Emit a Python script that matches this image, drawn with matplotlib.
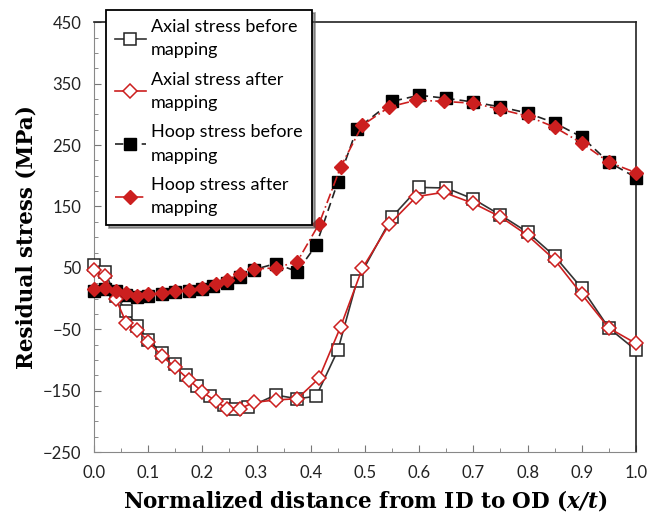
import matplotlib
matplotlib.use('Agg')
import matplotlib.pyplot as plt
import matplotlib.ticker as ticker

RED = '#CC1F1F'

# Axial stress before mapping (open squares)
ax_b_x = [0.0, 0.02, 0.04, 0.06, 0.08, 0.10, 0.125, 0.15, 0.17, 0.19, 0.215, 0.24, 0.26, 0.285,
          0.335, 0.375, 0.41, 0.45, 0.485, 0.55, 0.60, 0.65, 0.70, 0.75, 0.80, 0.85, 0.90, 0.95, 1.00]
ax_b_y = [54, 44, 4, -20, -45, -67, -88, -107, -125, -142, -158, -173, -180, -177,
          -157, -163, -159, -84, 28, 133, 181, 180, 162, 136, 108, 69, 17, -48, -84]

# Axial stress after mapping (open diamonds)
ax_a_x = [0.0, 0.02, 0.04, 0.06, 0.08, 0.10, 0.125, 0.15, 0.175, 0.20, 0.225, 0.245, 0.27, 0.295,
          0.335, 0.375, 0.415, 0.455, 0.495, 0.545, 0.595, 0.645, 0.70, 0.75, 0.80, 0.85, 0.90, 0.95, 1.00]
ax_a_y = [46, 36, 0, -40, -51, -70, -93, -112, -132, -152, -167, -179, -179, -169,
          -165, -163, -130, -46, 49, 121, 166, 173, 155, 133, 103, 63, 7, -48, -73]

# Hoop stress before mapping (filled squares)
hp_b_x = [0.0, 0.02, 0.04, 0.06, 0.08, 0.10, 0.125, 0.15, 0.175, 0.20, 0.22, 0.245, 0.27, 0.295,
          0.335, 0.375, 0.41, 0.45, 0.485, 0.55, 0.60, 0.65, 0.70, 0.75, 0.80, 0.85, 0.90, 0.95, 1.00]
hp_b_y = [13, 16, 12, 6, 2, 5, 7, 10, 12, 15, 20, 26, 35, 47,
          57, 44, 87, 190, 276, 321, 331, 326, 320, 312, 302, 286, 263, 222, 197]

# Hoop stress after mapping (filled diamonds)
hp_a_x = [0.0, 0.02, 0.04, 0.06, 0.08, 0.10, 0.125, 0.15, 0.175, 0.20, 0.225, 0.245, 0.27, 0.295,
          0.335, 0.375, 0.415, 0.455, 0.495, 0.545, 0.595, 0.645, 0.70, 0.75, 0.80, 0.85, 0.90, 0.95, 1.00]
hp_a_y = [15, 17, 12, 9, 5, 7, 9, 12, 14, 17, 24, 30, 40, 48,
          50, 60, 121, 214, 282, 312, 323, 321, 318, 308, 297, 279, 253, 222, 205]

plt.rcParams['font.family'] = ['Lato', 'DejaVu Sans']
plt.rcParams['mathtext.fontset'] = 'dejavuserif'

fig = plt.figure(figsize=(6.57, 5.15), dpi=100)
ax = fig.add_axes([0.143, 0.122, 0.825, 0.835])

ax.plot(ax_b_x, ax_b_y, color='#333333', lw=1.2, ls='-', marker='s', ms=8.5,
        mfc='white', mec='#222222', mew=1.1, label='Axial stress before\nmapping',
        zorder=3, clip_on=False)
ax.plot(ax_a_x, ax_a_y, color=RED, lw=1.2, ls='-', marker='D', ms=7.5,
        mfc='white', mec=RED, mew=1.1, label='Axial stress after\nmapping',
        zorder=4, clip_on=False)
ax.plot(hp_b_x, hp_b_y, color='#222222', lw=1.2, ls=(0, (5, 3)), marker='s', ms=8.5,
        mfc='black', mec='black', label='Hoop stress before\nmapping', zorder=3, clip_on=False)
ax.plot(hp_a_x, hp_a_y, color=RED, lw=1.2, ls=(0, (6, 2, 1, 2)), marker='D', ms=7.5,
        mfc=RED, mec=RED, label='Hoop stress after\nmapping', zorder=4, clip_on=False)

ax.set_xlim(0, 1.0)
ax.set_ylim(-250, 450)
ax.xaxis.set_major_locator(ticker.MultipleLocator(0.1))
ax.xaxis.set_minor_locator(ticker.MultipleLocator(0.05))
ax.yaxis.set_minor_locator(ticker.MultipleLocator(25))
ax.xaxis.set_major_formatter(ticker.FormatStrFormatter('%.1f'))
ax.set_yticks(range(-250, 451, 100))
ax.tick_params(which='both', direction='in', colors='#777777', labelcolor='#222222',
               labelsize=12, top=False, right=False)
ax.tick_params(which='major', length=5)
ax.tick_params(which='minor', length=3)
ax.tick_params(axis='x', pad=9)
ax.tick_params(axis='y', pad=9)

for s in ['left', 'bottom']:
    ax.spines[s].set_color('#888888')
for s in ['top', 'right']:
    ax.spines[s].set_color('#222222')
    ax.spines[s].set_linewidth(1.2)

ax.set_xlabel(r'Normalized distance from ID to OD ($\mathbfit{x/t}$)', family='DejaVu Serif',
              fontsize=15.5, fontweight='bold', labelpad=5)
ax.set_ylabel('Residual stress (MPa)', family='DejaVu Serif', fontsize=15.5,
              fontweight='bold', labelpad=4)

leg = ax.legend(loc='upper left', bbox_to_anchor=(106 / 657, 1 - 10 / 515),
                bbox_transform=fig.transFigure, fontsize=13, frameon=True, shadow=True,
                fancybox=False, handlelength=1.7, handletextpad=0.3, borderpad=0.5,
                labelspacing=0.75, borderaxespad=0)
leg.get_frame().set_edgecolor('black')
leg.get_frame().set_linewidth(1.3)
leg.set_zorder(10)
plt.setp(leg.get_texts(), linespacing=1.55)

fig.savefig('out.png', dpi=100, facecolor='white')
